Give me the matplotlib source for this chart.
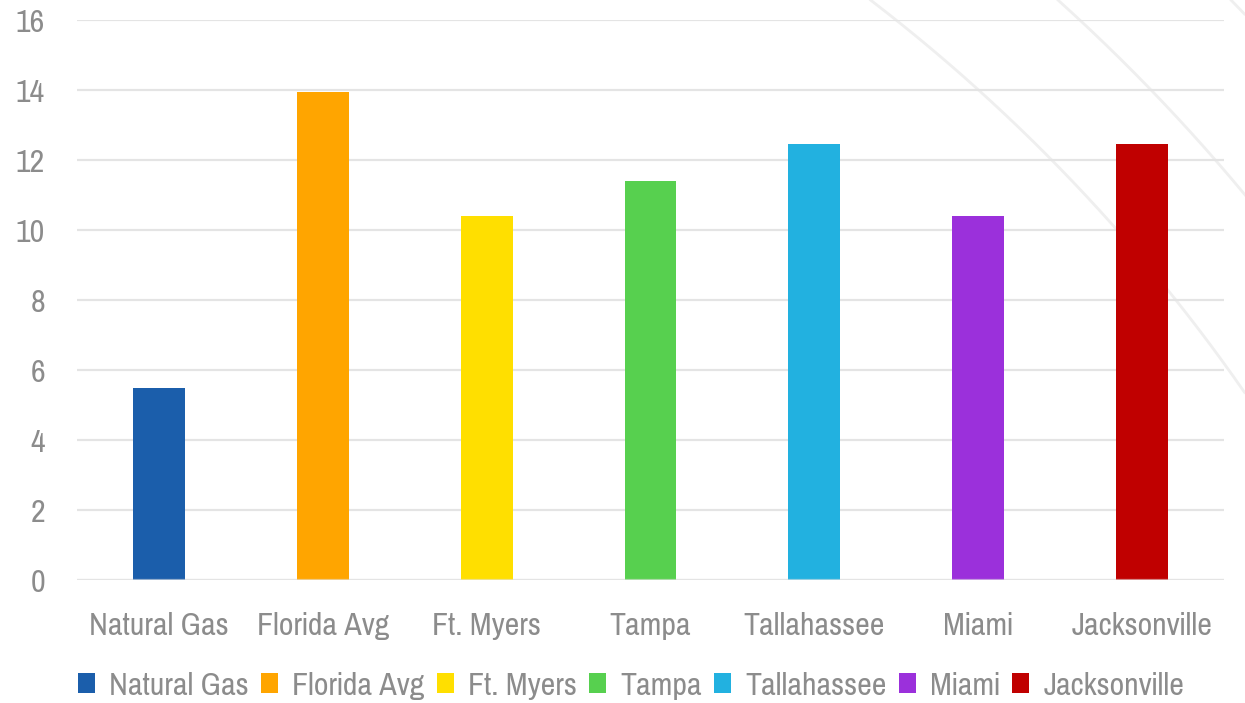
import numpy as np
import matplotlib
matplotlib.use("Agg")
import matplotlib.pyplot as plt
from matplotlib.lines import Line2D
from matplotlib.patches import Patch
from matplotlib import font_manager as fm

categories = ["Natural Gas", "Florida Avg", "Ft. Myers", "Tampa", "Tallahassee", "Miami", "Jacksonville"]
values = [5.5, 13.95, 10.4, 11.4, 12.45, 10.4, 12.45]
colors = ["#1B5EAB", "#FFA500", "#FFDF00", "#57D04F", "#22B1E0", "#9B30DB", "#C00000"]
yticks = [0, 2, 4, 6, 8, 10, 12, 14, 16]

available = {f.name for f in fm.fontManager.ttflist}
candidates = ['Liberation Sans Narrow', 'Arial Narrow', 'Pragati Narrow', 'Roboto Condensed',
              'Archivo Narrow', 'PT Sans Narrow', 'Open Sans Condensed', 'Liberation Sans']
chosen = [c for c in candidates if c in available][:1]
plt.rcParams['font.family'] = chosen + ['DejaVu Sans']

W, H = 1245, 703
fig = plt.figure(figsize=(W / 100, H / 100), dpi=100)
fig.patch.set_facecolor("white")

# decorative background arcs (figure pixel coords, y downwards)
cx, cy = -199, 1394
for r in (1757, 1877, 1997):
    t = np.linspace(0, np.pi / 2, 2000)
    xs = cx + r * np.cos(t)
    ys = cy - r * np.sin(t)
    m = (xs >= 0) & (xs <= W) & (ys >= 0) & (ys <= H)
    ln = Line2D(xs[m] / W, 1 - ys[m] / H, transform=fig.transFigure,
                color="#efefef", lw=2.0, zorder=-5)
    fig.add_artist(ln)

ax = fig.add_axes([77 / W, 1 - 580 / H, (1224 - 77) / W, (580 - 20) / H])
ax.patch.set_alpha(0)
x = np.arange(len(categories))
ax.bar(x, values, width=0.317, color=colors, zorder=3)
ax.set_xlim(-0.5, len(categories) - 0.5)
ax.set_ylim(0, 16)
ax.set_yticks(yticks)
ax.set_xticks(x)
ax.set_xticklabels(categories)
ax.yaxis.grid(True, color="#e4e4e4", lw=1.6, zorder=0)
ax.axhline(0, color="#e4e4e4", lw=1.6, alpha=0.6, zorder=4)
for s in ax.spines.values():
    s.set_visible(False)
ax.tick_params(axis="both", length=0, labelsize=25, labelcolor="#8c8c8c")
ax.tick_params(axis="x", pad=23)
ax.tick_params(axis="y", pad=23)

handles = [Patch(facecolor=c, edgecolor="none") for c in colors]
leg = fig.legend(handles, categories, loc="center", bbox_to_anchor=(631 / W, 1 - 686 / H),
                 ncol=7, frameon=False, fontsize=25, handlelength=0.5, handleheight=0.5,
                 handletextpad=0.4, columnspacing=0.35, borderaxespad=0)
for t in leg.get_texts():
    t.set_color("#8c8c8c")

fig.savefig("out.png", dpi=100)
